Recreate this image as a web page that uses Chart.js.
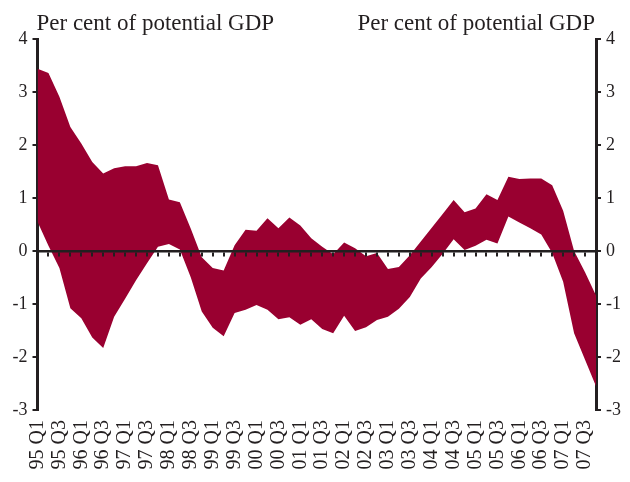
<!DOCTYPE html>
<html>
<head>
<meta charset="utf-8">
<script src="https://cdn.jsdelivr.net/npm/chart.js@4.4.1/dist/chart.umd.min.js"></script>
<style>
  html, body { margin: 0; padding: 0; background: #fff; }
  #wrap { width: 630px; height: 482px; position: relative; }
</style>
</head>
<body>
<div id="wrap"><canvas id="grafico"></canvas></div>
<script>
// quarters 95 Q1 .. 07 Q4
const trimestres = [
    '95 Q1', '95 Q2', '95 Q3', '95 Q4', '96 Q1', '96 Q2', '96 Q3', '96 Q4',
    '97 Q1', '97 Q2', '97 Q3', '97 Q4', '98 Q1', '98 Q2', '98 Q3', '98 Q4',
    '99 Q1', '99 Q2', '99 Q3', '99 Q4', '00 Q1', '00 Q2', '00 Q3', '00 Q4',
    '01 Q1', '01 Q2', '01 Q3', '01 Q4', '02 Q1', '02 Q2', '02 Q3', '02 Q4',
    '03 Q1', '03 Q2', '03 Q3', '03 Q4', '04 Q1', '04 Q2', '04 Q3', '04 Q4',
    '05 Q1', '05 Q2', '05 Q3', '05 Q4', '06 Q1', '06 Q2', '06 Q3', '06 Q4',
    '07 Q1', '07 Q2', '07 Q3', '07 Q4'
];

// upper and lower edge of the band (per cent of potential GDP)
const limiteSuperior = [
    3.44, 3.36, 2.91, 2.34, 2.03, 1.68, 1.46, 1.56, 1.60, 1.60, 1.66, 1.62, 0.97, 0.92,
    0.42, -0.12, -0.32, -0.37, 0.11, 0.40, 0.38, 0.62, 0.43, 0.63, 0.48, 0.24,
    0.08, -0.06, 0.16, 0.05, -0.10, -0.04, -0.34, -0.30, -0.08, 0.18, 0.44, 0.70,
    0.96, 0.73, 0.80, 1.07, 0.96, 1.40, 1.36, 1.37, 1.37, 1.24, 0.76, 0.00, -0.40, -0.84
];
const limiteInferior = [
    0.55, 0.10, -0.32, -1.08, -1.27, -1.63, -1.83, -1.24, -0.90, -0.55, -0.23, 0.08, 0.13, 0.03,
    -0.50, -1.14, -1.45, -1.61, -1.17, -1.11, -1.02, -1.11, -1.29, -1.25, -1.39, -1.29,
    -1.47, -1.55, -1.22, -1.51, -1.44, -1.30, -1.24, -1.09, -0.87, -0.52, -0.30, -0.05,
    0.22, 0.02, 0.10, 0.21, 0.14, 0.65, 0.54, 0.43, 0.31, -0.04, -0.58, -1.55, -2.05, -2.55
];

const tituloEje = 'Per cent of potential GDP';
const tinta = '#231f20';
const granate = '#990030';
const fuente = '"Liberation Serif", "Times New Roman", serif';

// two axis captions above the plot
const titulos = {
    id: 'titulos',
    afterDraw(chart) {
        const c = chart.ctx;
        const area = chart.chartArea;
        c.save();
        c.fillStyle = tinta;
        c.font = '23px ' + fuente;
        c.textBaseline = 'alphabetic';
        c.textAlign = 'left';
        c.fillText(tituloEje, area.left - 1, 30);
        c.textAlign = 'right';
        c.fillText(tituloEje, area.right - 1, 30);
        c.restore();
    }
};

window.onload = function () {
    const ctx = document.getElementById('grafico').getContext('2d');

    const ejeY = (pos, ancho) => ({
        axis: 'y',
        position: pos,
        min: -3,
        max: 4,
        afterFit: s => { s.width = ancho; },
        ticks: { stepSize: 1, padding: 5, color: tinta, font: { family: fuente, size: 18 } },
        grid: { drawOnChartArea: false, drawTicks: true, tickLength: 5, color: tinta, lineWidth: 2 },
        border: { display: true, color: tinta, width: 3 }
    });

    new Chart(ctx, {
        type: 'line',
        data: {
            labels: trimestres,
            datasets: [{
                label: 'upper',
                data: limiteSuperior,
                fill: '+1',
                backgroundColor: granate,
                borderColor: 'transparent',
                borderWidth: 0,
                pointRadius: 0,
                tension: 0
            }, {
                label: 'lower',
                data: limiteInferior,
                fill: false,
                borderColor: 'transparent',
                borderWidth: 0,
                pointRadius: 0,
                tension: 0
            }]
        },
        options: {
            responsive: true,
            maintainAspectRatio: false,
            animation: false,
            layout: { padding: { top: 39, left: 0, right: 0, bottom: 0 } },
            plugins: {
                legend: { display: false },
                tooltip: { enabled: false }
            },
            scales: {
                x: {
                    type: 'category',
                    axis: 'x',
                    position: 'bottom',
                    offset: false,
                    afterFit: s => { s.height = 72; },
                    grid: { display: false, drawTicks: false },
                    border: { display: false },
                    ticks: {
                        autoSkip: false,
                        minRotation: 90,
                        maxRotation: 90,
                        padding: 10,
                        color: tinta,
                        font: { family: fuente, size: 20 },
                        callback: function (val, i) {
                            return i % 2 === 0 ? this.getLabelForValue(val) : '';
                        }
                    }
                },
                // zero line with quarter tick marks, drawn over the band
                cero: {
                    type: 'category',
                    axis: 'x',
                    position: { y: 0 },
                    offset: false,
                    ticks: { display: false },
                    grid: { z: 1, drawOnChartArea: false, drawTicks: true, tickLength: 4, color: tinta, lineWidth: 2 },
                    border: { z: 1, display: true, color: tinta, width: 2.5 }
                },
                y: ejeY('left', 37.5),
                y2: ejeY('right', 30)
            }
        },
        plugins: [titulos]
    });
};
</script>
</body>
</html>
